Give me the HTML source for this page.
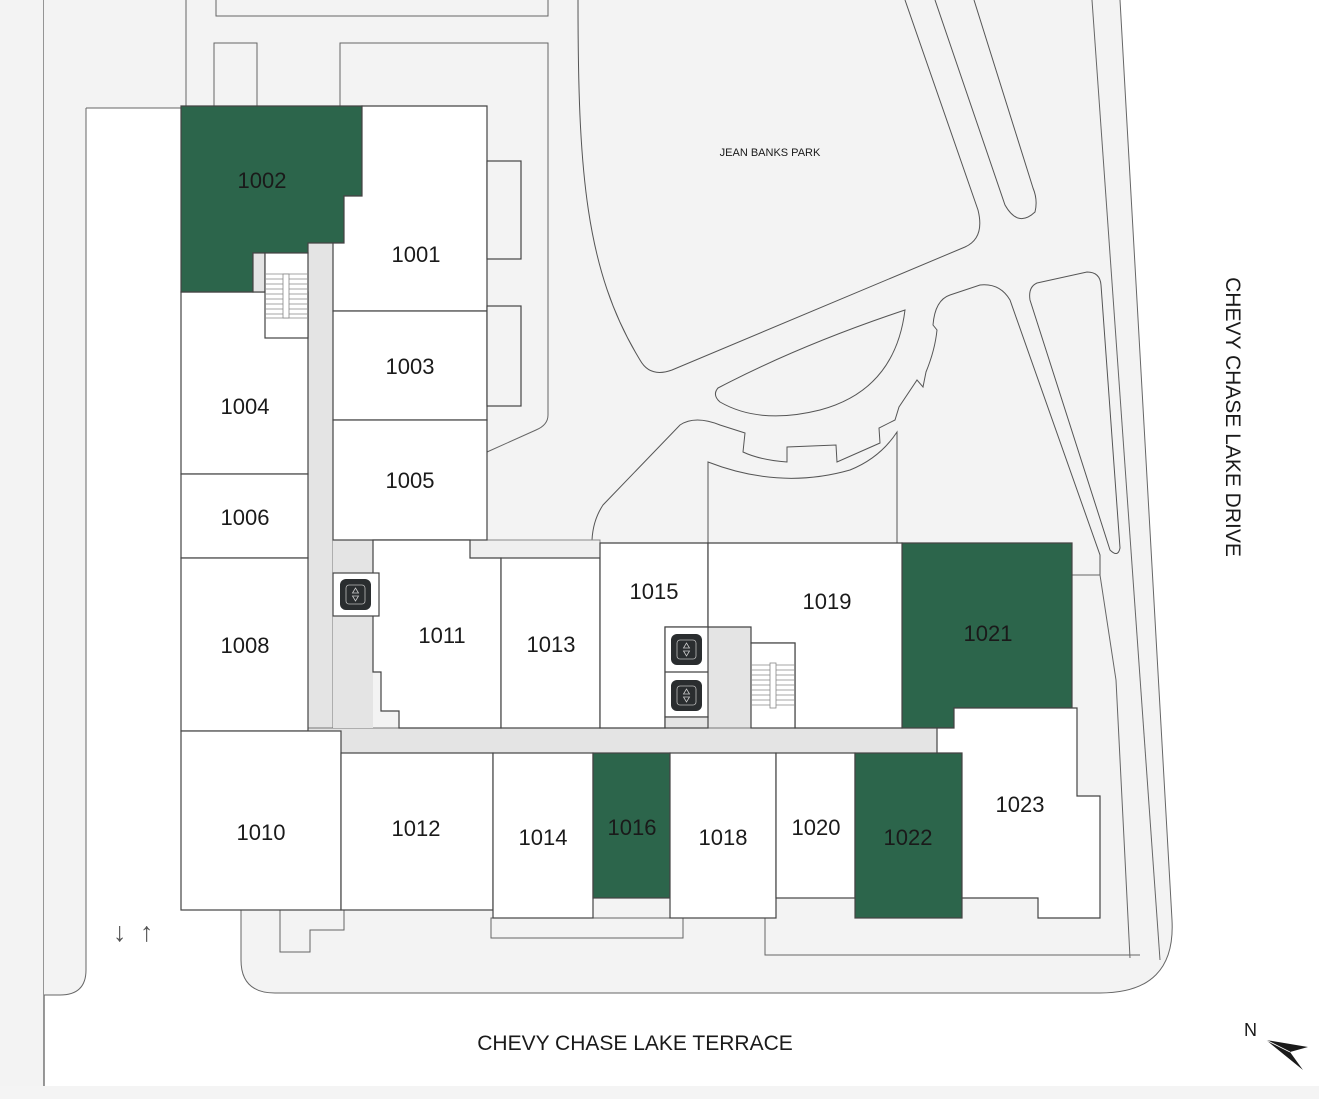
<!DOCTYPE html>
<html><head><meta charset="utf-8"><style>
html,body{margin:0;padding:0;background:#fff;}
svg{display:block;}
text{font-family:"Liberation Sans",sans-serif;fill:#1a1a1a;}
.u{font-size:22px;text-anchor:middle;}
</style></head><body>
<svg width="1319" height="1099" viewBox="0 0 1319 1099" xmlns="http://www.w3.org/2000/svg">
<rect x="0" y="0" width="1319" height="1099" fill="#fff"/>
<rect x="0" y="0" width="44" height="1086" fill="#f3f3f3"/>
<rect x="0" y="1086" width="1319" height="13" fill="#f4f4f4"/>
<line x1="44" y1="0" x2="44" y2="1086" stroke="#555" stroke-width="1.2"/>
<path d="M44,0 H1120 L1172,920 Q1176,993 1100,993 H275 Q241,993 241,960 V910 H181 V108 H86 V970 Q86,995 60,995 H44 Z" fill="#f3f3f3"/>
<path d="M1120,0 L1172,920 Q1176,993 1100,993 H275 Q241,993 241,960 V910" fill="none" stroke="#666" stroke-width="1"/>
<path d="M86,108 V970 Q86,995 60,995 H44" fill="none" stroke="#666" stroke-width="1"/>
<line x1="86" y1="108" x2="181" y2="108" stroke="#666"/>
<line x1="1092" y1="0" x2="1160" y2="960" stroke="#666"/>
<rect x="216" y="-2" width="332" height="18" fill="none" stroke="#666"/>
<path d="M214,106 V43 H257 V106" fill="none" stroke="#666"/>
<line x1="186" y1="0" x2="186" y2="106" stroke="#666"/>
<path d="M340,106 V43 H548 V415 Q548,425 536,430 L487,452" fill="none" stroke="#666"/>
<path d="M578,0 C578,170 585,270 640,360 Q650,378 672,370 L965,247 Q985,238 978,210 L905,0" fill="none" stroke="#555"/>
<path d="M935,0 L1005,205 Q1018,228 1035,212 Q1038,200 1033,188 L974,0" fill="none" stroke="#555"/>
<path d="M1037,283 L1087,272 Q1100,272 1101,285 L1120,548 Q1118,558 1110,550 L1030,300 Q1028,287 1037,283 Z" fill="none" stroke="#555"/>
<path d="M718,388 Q800,345 905,310 Q895,390 820,410 Q760,425 720,402 Q712,395 718,388 Z" fill="none" stroke="#555"/>
<path d="M600,543 L592,540 Q593,520 603,505 L680,425 Q695,415 720,425 L745,433 L743,452 Q760,460 787,462 V447 L836,445 L837,462 L880,443 L879,428 L895,420 L899,407 L917,380 L923,387 L926,372 Q935,350 937,330 L933,325 Q935,300 950,295 L980,285 Q1000,283 1010,300 L1100,555 L1100,575 L1072,575" fill="none" stroke="#555"/>
<path d="M708,543 V462 Q780,490 850,470 Q880,458 897,432 V543" fill="none" stroke="#555"/>
<path d="M1072,575 H1100 L1116,680 L1130,958" fill="none" stroke="#666"/>
<path d="M765,918 V955 H1140" fill="none" stroke="#666"/>
<rect x="491" y="918" width="192" height="20" fill="none" stroke="#666"/>
<path d="M280,910 V952 H310 V930 H344 V910" fill="none" stroke="#666"/>
<rect x="308" y="243" width="25" height="510" fill="#e4e4e4" stroke="#777"/>
<rect x="308" y="728" width="629" height="25" fill="#e4e4e4" stroke="#777"/>
<rect x="333" y="540" width="40" height="188" fill="#e4e4e4"/>
<rect x="470" y="540" width="130" height="18" fill="#efefef" stroke="#888"/>
<rect x="708" y="627" width="43" height="101" fill="#e4e4e4" stroke="#777"/>
<rect x="345" y="753" width="35" height="8" fill="#e4e4e4" stroke="#777"/>
<g stroke="#444" stroke-width="1.2">
<rect x="181" y="292" width="127" height="182" fill="#fff"/>
<polygon points="181,106 362,106 362,196 344,196 344,243 308,243 308,253 253,253 253,292 181,292" fill="#2c654b"/>
<rect x="253" y="253" width="12" height="39" fill="#e4e4e4"/>
<rect x="265" y="253" width="43" height="85" fill="#fff"/>
<polygon points="333,243 344,243 344,196 362,196 362,106 487,106 487,311 333,311" fill="#fff"/>
<rect x="333" y="311" width="154" height="109" fill="#fff"/>
<rect x="333" y="420" width="154" height="120" fill="#fff"/>
<rect x="487" y="161" width="34" height="98" fill="#f3f3f3"/>
<rect x="487" y="306" width="34" height="100" fill="#f3f3f3"/>
<rect x="181" y="474" width="127" height="84" fill="#fff"/>
<rect x="181" y="558" width="127" height="173" fill="#fff"/>
<rect x="181" y="731" width="160" height="179" fill="#fff"/>
<rect x="341" y="753" width="152" height="157" fill="#fff"/>
<rect x="493" y="753" width="100" height="165" fill="#fff"/>
<rect x="593" y="753" width="77" height="145" fill="#2c654b"/>
<rect x="670" y="753" width="106" height="165" fill="#fff"/>
<rect x="776" y="753" width="79" height="145" fill="#fff"/>
<rect x="855" y="753" width="107" height="165" fill="#2c654b"/>
<polygon points="902,543 1072,543 1072,708 954,708 954,728 902,728" fill="#2c654b"/>
<polygon points="937,728 954,728 954,708 1077,708 1077,796 1100,796 1100,918 1038,918 1038,898 962,898 962,753 937,753" fill="#fff"/>
<polygon points="373,540 470,540 470,558 501,558 501,728 399,728 399,711 381,711 381,672 373,672" fill="#fff"/>
<rect x="501" y="558" width="99" height="170" fill="#fff"/>
<polygon points="600,543 708,543 708,627 665,627 665,728 600,728" fill="#fff"/>
<polygon points="708,543 902,543 902,728 795,728 795,643 751,643 751,627 708,627" fill="#fff"/>
<rect x="751" y="643" width="44" height="85" fill="#fff"/>
<rect x="665" y="627" width="43" height="90" fill="#fff"/>
<rect x="665" y="717" width="43" height="11" fill="#e4e4e4"/>
<line x1="665" y1="672" x2="708" y2="672"/>
<rect x="333" y="573" width="46" height="43" fill="#fff"/>
</g>
<g stroke="#888" stroke-width="0.8">
<line x1="265" y1="274" x2="308" y2="274"/><line x1="265" y1="279" x2="308" y2="279"/><line x1="265" y1="284" x2="308" y2="284"/><line x1="265" y1="289" x2="308" y2="289"/><line x1="265" y1="294" x2="308" y2="294"/><line x1="265" y1="299" x2="308" y2="299"/><line x1="265" y1="304" x2="308" y2="304"/><line x1="265" y1="309" x2="308" y2="309"/><line x1="265" y1="314" x2="308" y2="314"/><line x1="265" y1="318" x2="308" y2="318"/>
<rect x="283" y="274" width="6" height="44" fill="#fff"/>
<line x1="751" y1="665" x2="795" y2="665"/><line x1="751" y1="670" x2="795" y2="670"/><line x1="751" y1="675" x2="795" y2="675"/><line x1="751" y1="680" x2="795" y2="680"/><line x1="751" y1="685" x2="795" y2="685"/><line x1="751" y1="690" x2="795" y2="690"/><line x1="751" y1="695" x2="795" y2="695"/><line x1="751" y1="700" x2="795" y2="700"/><line x1="751" y1="705" x2="795" y2="705"/>
<rect x="770" y="663" width="6" height="45" fill="#fff"/>
</g>
<g>
<g transform="translate(340,579)"><rect width="31" height="31" rx="6" fill="#2a2d2f"/><rect x="6" y="6" width="19" height="19" rx="3" fill="none" stroke="#bbb" stroke-width="0.8"/><path d="M12.5,14 L15.5,9 L18.5,14 Z M12.5,17 L15.5,22 L18.5,17 Z" fill="none" stroke="#ccc" stroke-width="0.8"/></g>
<g transform="translate(671,634)"><rect width="31" height="31" rx="6" fill="#2a2d2f"/><rect x="6" y="6" width="19" height="19" rx="3" fill="none" stroke="#bbb" stroke-width="0.8"/><path d="M12.5,14 L15.5,9 L18.5,14 Z M12.5,17 L15.5,22 L18.5,17 Z" fill="none" stroke="#ccc" stroke-width="0.8"/></g>
<g transform="translate(671,680)"><rect width="31" height="31" rx="6" fill="#2a2d2f"/><rect x="6" y="6" width="19" height="19" rx="3" fill="none" stroke="#bbb" stroke-width="0.8"/><path d="M12.5,14 L15.5,9 L18.5,14 Z M12.5,17 L15.5,22 L18.5,17 Z" fill="none" stroke="#ccc" stroke-width="0.8"/></g>
</g>
<g>
<text class="u" x="262" y="188">1002</text>
<text class="u" x="416" y="262">1001</text>
<text class="u" x="410" y="374">1003</text>
<text class="u" x="245" y="414">1004</text>
<text class="u" x="410" y="488">1005</text>
<text class="u" x="245" y="525">1006</text>
<text class="u" x="245" y="653">1008</text>
<text class="u" x="442" y="643">1011</text>
<text class="u" x="551" y="652">1013</text>
<text class="u" x="654" y="599">1015</text>
<text class="u" x="827" y="609">1019</text>
<text class="u" x="988" y="641">1021</text>
<text class="u" x="261" y="840">1010</text>
<text class="u" x="416" y="836">1012</text>
<text class="u" x="543" y="845">1014</text>
<text class="u" x="632" y="835">1016</text>
<text class="u" x="723" y="845">1018</text>
<text class="u" x="816" y="835">1020</text>
<text class="u" x="908" y="845">1022</text>
<text class="u" x="1020" y="812">1023</text>
</g>
<text x="770" y="156" font-size="11" text-anchor="middle">JEAN BANKS PARK</text>
<text x="635" y="1050" font-size="21" text-anchor="middle">CHEVY CHASE LAKE TERRACE</text>
<text transform="translate(1226,417) rotate(90)" font-size="21" text-anchor="middle">CHEVY CHASE LAKE DRIVE</text>
<text x="113" y="941" font-size="27" style="fill:#555">↓</text>
<text x="140" y="941" font-size="27" style="fill:#555">↑</text>
<text x="1244" y="1036" font-size="18">N</text>
<path d="M1266,1040 L1308,1047 L1290,1052 L1303,1070 Z" fill="#1a1a1a"/>
<path d="M1266,1040 L1290,1052" stroke="#fff" stroke-width="0.8"/>
</svg>
</body></html>
